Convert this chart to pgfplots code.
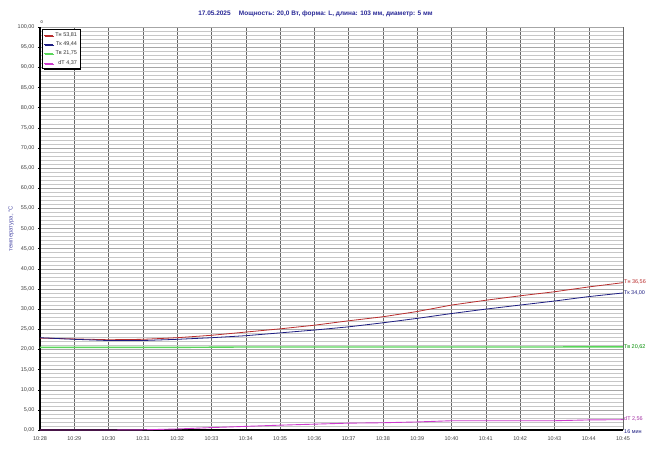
\documentclass[border=0pt]{standalone}
\usepackage{pgfplots}
\pgfplotsset{compat=1.18}
\usepackage{fontspec}
\setmainfont{Liberation Sans}
\usetikzlibrary{shadows}
\definecolor{tn}{RGB}{185,45,45}
\definecolor{tk}{RGB}{30,30,130}
\definecolor{tv}{RGB}{90,215,90}
\definecolor{dt}{RGB}{205,60,205}
\definecolor{ttl}{RGB}{40,40,150}
\begin{document}
\begin{tikzpicture}
\begin{axis}[
  scale only axis, width=583bp, height=403bp,
  xmin=0, xmax=17, ymin=0, ymax=100,
  axis x line*=bottom, axis y line*=left,
  axis line style={black, line width=1.4pt, -},
  xtick={0,...,17},
  xticklabels={10:28,10:29,10:30,10:31,10:32,10:33,10:34,10:35,10:36,10:37,10:38,10:39,10:40,10:41,10:42,10:43,10:44,10:45},
  ytick={0,5,...,100},
  minor y tick num=4,
  grid=both,
  major grid style={black!35, line width=0.4pt},
  minor grid style={black!22, line width=0.4pt},
  x grid style={black!60},
  tick align=outside, major tick length=2bp, minor tick length=0pt,
  tick style={black, line width=0.4pt},
  xtick style={draw=none},
  /pgf/number format/.cd, fixed, fixed zerofill, precision=2, use comma, 1000 sep={}, assume math mode=true,
  /pgfplots/.cd,
  ticklabel style={font=\fontsize{5.5}{6.5}\selectfont, text=black!75},
  xticklabel style={yshift=-1bp},
  ylabel={температура, °C},
  ylabel style={font=\fontsize{6}{7}\selectfont, text=ttl!80, yshift=-3bp},
  title={17.05.2025\quad\ Мощность: 20,0 Вт, форма: L, длина: 103 мм, диаметр: 5 мм},
  title style={font=\bfseries\fontsize{6.5}{7.5}\selectfont, text=ttl, yshift=1bp, xshift=-16bp},
  legend style={at={(rel axis cs:0.004,0.995)}, anchor=north west,
    font=\fontsize{5.5}{6.5}\selectfont, draw=black, line width=0.5pt, fill=white,
    drop shadow={shadow xshift=1.2bp, shadow yshift=-1.2bp, fill=black, opacity=1},
    inner sep=1pt, row sep=0pt,
    nodes={text=black!80},
    /tikz/every even column/.append style={column sep=5bp}},
  legend cell align=right,
  legend image code/.code={\draw[#1, line width=0.8pt] (0bp,0bp) -- (9bp,0bp);},
  clip=false,
]
\addplot[tn, line width=0.8pt] coordinates {
(0,22.8)(1,22.6)(2,22.4)(3,22.5)(4,22.9)(5,23.5)(6,24.3)(7,25.1)(8,26.0)(9,27.1)
(10,28.1)(11,29.4)(12,31.0)(13,32.2)(14,33.3)(15,34.3)(16,35.5)(17,36.56)};
\addlegendentry{Тн 53,81}
\addplot[tk, line width=0.8pt] coordinates {
(0,22.9)(1,22.5)(2,22.2)(3,22.2)(4,22.5)(5,22.9)(6,23.4)(7,24.1)(8,24.8)(9,25.6)
(10,26.6)(11,27.7)(12,28.9)(13,30.0)(14,31.0)(15,32.0)(16,33.1)(17,34.0)};
\addlegendentry{Тк 49,44}
\addplot[tv, line width=1.4pt] coordinates {
(0,20.5)(2,20.5)(4,20.5)(6,20.6)(8,20.6)(10,20.6)(12,20.6)(14,20.6)(17,20.62)};
\addlegendentry{Тв 21,75}
\addplot[dt, line width=0.9pt] coordinates {
(0,0)(2,0)(3,0.05)(4,0.25)(5,0.6)(6,0.9)(7,1.2)(8,1.45)(9,1.7)(10,1.8)
(11,2.0)(12,2.3)(13,2.3)(14,2.3)(15,2.3)(16,2.5)(17,2.56)};
\addlegendentry{dT 4,37}
\node[anchor=west, font=\fontsize{5.5}{6.5}\selectfont, text=tn, inner sep=1bp] at (axis cs:17,36.7) {Тн 36,56};
\node[anchor=west, font=\fontsize{5.5}{6.5}\selectfont, text=tk, inner sep=1bp] at (axis cs:17,34.0) {Тк 34,00};
\node[anchor=west, font=\fontsize{5.5}{6.5}\selectfont, text=green!55!black, inner sep=1bp] at (axis cs:17,20.6) {Тв 20,62};
\node[anchor=west, font=\fontsize{5.5}{6.5}\selectfont, text=dt!80!black, inner sep=1bp] at (axis cs:17,2.8) {dT 2,56};
\node[anchor=west, font=\fontsize{5.5}{6.5}\selectfont, text=tk, inner sep=1bp] at (axis cs:17,-0.5) {16 мин};
\node[anchor=south, font=\fontsize{4}{5}\selectfont, inner sep=1bp] at (axis cs:0.05,100.5) {0};
\coordinate (sw) at (rel axis cs:0,0);
\coordinate (ne) at (rel axis cs:1,1);
\end{axis}
\pgfresetboundingbox
\path ([shift={(-40bp,-22bp)}]sw) rectangle ([shift={(33bp,27bp)}]ne);
\end{tikzpicture}
\end{document}
